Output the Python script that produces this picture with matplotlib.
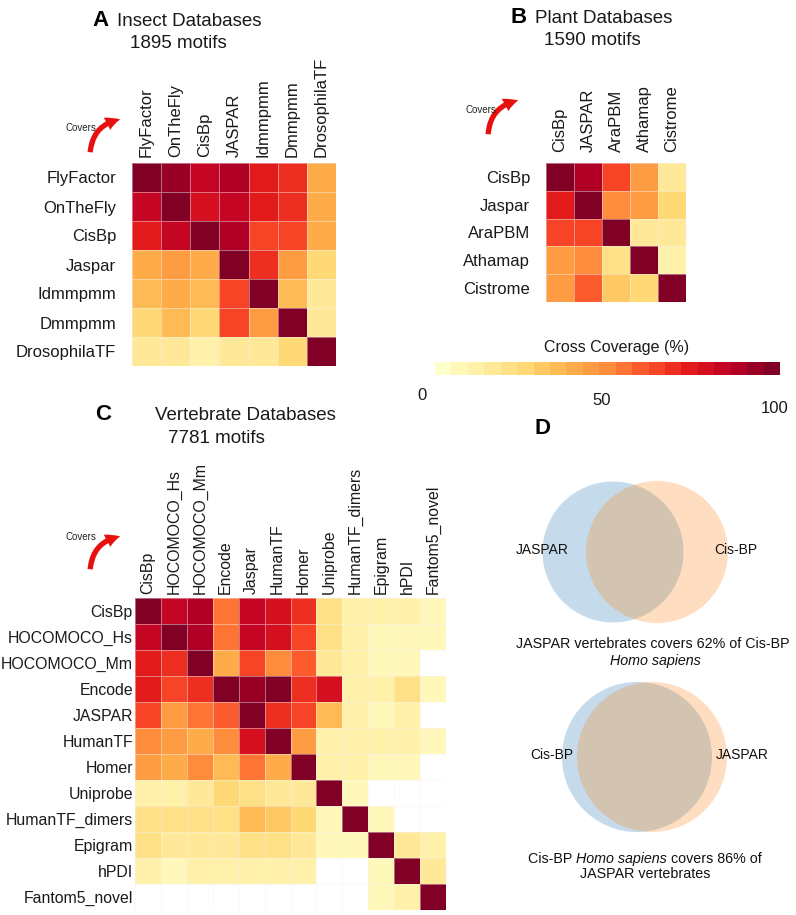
import numpy as np
import matplotlib
matplotlib.use("Agg")
import matplotlib.pyplot as plt
from matplotlib.colors import Normalize
from matplotlib.patches import Circle, FancyArrowPatch
import matplotlib.colorbar as mcolorbar

plt.rcParams['font.family'] = ['Liberation Sans', 'DejaVu Sans']

nan = np.nan

# ---------------- data ----------------
insect_labels_rows = ["FlyFactor", "OnTheFly", "CisBp", "Jaspar", "Idmmpmm", "Dmmpmm", "DrosophilaTF"]
insect_labels_cols = ["FlyFactor", "OnTheFly", "CisBp", "JASPAR", "Idmmpmm", "Dmmpmm", "DrosophilaTF"]
insect_values = [
    [100, 94, 84, 88, 76, 71, 40],
    [82, 100, 80, 85, 76, 67, 40],
    [76, 81, 100, 87, 66, 64, 40],
    [42, 46, 42, 100, 71, 43, 27],
    [37, 40, 38, 63, 100, 35, 15],
    [27, 36, 28, 63, 45, 100, 18],
    [15, 18, 14, 17, 15, 27, 100],
]
insect_motifs = 1895

plant_labels_rows = ["CisBp", "Jaspar", "AraPBM", "Athamap", "Cistrome"]
plant_labels_cols = ["CisBp", "JASPAR", "AraPBM", "Athamap", "Cistrome"]
plant_values = [
    [100, 88, 65, 47, 18],
    [76, 100, 52, 47, 24],
    [62, 65, 100, 17, 15],
    [47, 52, 22, 100, 10],
    [43, 58, 32, 26, 100],
]
plant_motifs = 1590

vert_labels_rows = ["CisBp", "HOCOMOCO_Hs", "HOCOMOCO_Mm", "Encode", "JASPAR", "HumanTF", "Homer",
                    "Uniprobe", "HumanTF_dimers", "Epigram", "hPDI", "Fantom5_novel"]
vert_labels_cols = ["CisBp", "HOCOMOCO_Hs", "HOCOMOCO_Mm", "Encode", "Jaspar", "HumanTF", "Homer",
                    "Uniprobe", "HumanTF_dimers", "Epigram", "hPDI", "Fantom5_novel"]
vert_values = [
    [100, 81, 88, 53, 85, 77, 70, 20, 14, 14, 14, 8],
    [82, 100, 88, 53, 82, 77, 65, 20, 14, 7, 7, 9],
    [72, 70, 100, 40, 66, 48, 60, 18, 13, 8, 8, nan],
    [72, 66, 70, 100, 93, 100, 70, 77, 12, 13, 23, 8],
    [64, 47, 55, 58, 100, 70, 66, 36, 12, 8, 12, nan],
    [48, 44, 40, 48, 77, 100, 45, 13, 12, 10, 10, 8],
    [47, 40, 50, 38, 55, 40, 100, 13, 12, 8, 8, nan],
    [14, 13, 17, 25, 20, 15, 18, 100, 6, nan, nan, nan],
    [23, 20, 20, 20, 38, 32, 27, 6, 100, 6, nan, nan],
    [20, 17, 17, 17, 20, 22, 17, 6, 6, 100, 15, 13],
    [14, 6, 12, 12, 12, 12, 12, nan, nan, 6, 100, 15],
    [nan, nan, nan, nan, nan, nan, nan, nan, nan, 6, 12, 100],
]
vert_motifs = 7781

colorbar_ticks = [0, 50, 100]
venn1_sets = ["JASPAR", "Cis-BP"]
venn1_pct = 62
venn2_sets = ["Cis-BP", "JASPAR"]
venn2_pct = 86

# ---------------- figure ----------------
W, H = 796, 915
fig = plt.figure(figsize=(W / 100, H / 100), dpi=100)

def axpos(l, t, r, b):
    return [l / W, 1 - b / H, (r - l) / W, (b - t) / H]

cmap = plt.get_cmap('YlOrRd', 21).copy()
cmap.set_bad('white')
norm = Normalize(0, 100)

# overlay axis in pixel coordinates
ov = fig.add_axes([0, 0, 1, 1])
ov.set_xlim(0, W)
ov.set_ylim(H, 0)
ov.axis('off')

def heat(box, M, rows, cols, fs, xpad, ypad):
    ax = fig.add_axes(axpos(*box))
    M = np.ma.masked_invalid(np.array(M, dtype=float))
    n = M.shape[0]
    ax.pcolormesh(M, cmap=cmap, norm=norm, edgecolors=(0.95, 0.95, 0.95, 0.45), linewidth=0.6)
    ax.set_xlim(0, n)
    ax.set_ylim(n, 0)
    ax.xaxis.tick_top()
    ax.set_xticks(np.arange(n) + 0.5)
    ax.set_xticklabels(cols, rotation=90, fontsize=fs)
    ax.set_yticks(np.arange(n) + 0.5)
    ax.set_yticklabels(rows, fontsize=fs)
    ax.tick_params(axis='x', length=0, pad=ypad, colors='#1a1a1a')
    ax.tick_params(axis='y', length=0, pad=xpad, colors='#1a1a1a')
    for s in ax.spines.values():
        s.set_visible(False)
    return ax

heat((132, 163, 336, 366), insect_values, insect_labels_rows, insect_labels_cols, 12, 11.5, 4.3)
heat((546, 163, 686, 302), plant_values, plant_labels_rows, plant_labels_cols, 12, 11.5, 8)
heat((135, 598, 446, 910), vert_values, vert_labels_rows, vert_labels_cols, 11.4, 1.5, 3)

# titles
def title(letter, lx, name, nx, base, motifs, mx, mbase):
    ov.text(lx, base, letter, fontsize=16, fontweight='bold', ha='left', va='baseline')
    ov.text(nx, base, name, fontsize=13.5, ha='left', va='baseline', color='#1a1a1a')
    ov.text(mx, mbase, f"{motifs} motifs", fontsize=13.5, ha='center', va='baseline', color='#1a1a1a')

title("A", 92, "Insect Databases", 117, 26, insect_motifs, 178, 48)
title("B", 510, "Plant Databases", 535, 23, plant_motifs, 592, 45)
title("C", 95, "Vertebrate Databases", 155, 420, vert_motifs, 216, 443)
ov.text(535, 434, "D", fontsize=16, fontweight='bold', ha='left', va='baseline')

# "Covers" arrows
def covers(tx, ty, start, end):
    ov.text(tx, ty, "Covers", fontsize=7, ha='left', va='center', color='#222222')
    arr = FancyArrowPatch(posA=start, posB=end, connectionstyle='arc3,rad=-0.42',
                          arrowstyle='simple,head_length=10,head_width=10,tail_width=3.8',
                          color='#e8100f', lw=0)
    ov.add_patch(arr)

covers(65, 128, (90, 155), (123, 119))
covers(465, 110, (488, 137), (521, 100))
covers(66, 537, (90, 572), (123, 536))

# colorbar
cax = fig.add_axes(axpos(435, 362, 780, 375))
cb = mcolorbar.ColorbarBase(cax, cmap=plt.get_cmap('YlOrRd', 21), norm=norm, orientation='horizontal')
cb.outline.set_visible(False)
cax.set_xticks([])
cax.set_yticks([])
ov.text(617, 352, "Cross Coverage (%)", fontsize=11.5, ha='center', va='baseline', color='#1a1a1a')
for v, (x, y) in zip(colorbar_ticks, [(422, 400), (602, 405), (775, 413)]):
    ov.text(x, y, str(v), fontsize=12, ha='center', va='baseline', color='#1a1a1a')

# Venn diagrams
blue = '#1f77b4'
orange = '#ff7f0e'
def venn(cb_, rb, co, ro, cy, labels, lpos):
    ov.add_patch(Circle((cb_, cy), rb, facecolor=blue, alpha=0.26, lw=0))
    ov.add_patch(Circle((co, cy), ro, facecolor=orange, alpha=0.26, lw=0))
    for lab, x in zip(labels, lpos):
        ov.text(x, cy + 2, lab, fontsize=10, ha='center', va='baseline', color='#111111')

venn(613, 70.5, 657, 71, 552, venn1_sets, [542, 736])
venn(637, 75, 652, 75, 757, venn2_sets, [552, 742])

renderer = fig.canvas.get_renderer()
def mixed_line(xc, y, parts, fs=10.3):
    texts, widths = [], []
    for s, st in parts:
        t = ov.text(0, y, s, fontsize=fs, style=st, ha='left', va='baseline', color='#111111')
        widths.append(t.get_window_extent(renderer).width)
        texts.append(t)
    x = xc - sum(widths) / 2
    for t, w in zip(texts, widths):
        t.set_x(x)
        x += w

mixed_line(653, 648, [(f"JASPAR vertebrates covers {venn1_pct}% of Cis-BP", 'normal')])
mixed_line(655, 665, [("Homo sapiens", 'italic')])
mixed_line(645, 863, [("Cis-BP ", 'normal'), ("Homo sapiens", 'italic'), (f" covers {venn2_pct}% of", 'normal')])
mixed_line(645, 878, [("JASPAR vertebrates", 'normal')])

fig.savefig("out.png", dpi=100)
